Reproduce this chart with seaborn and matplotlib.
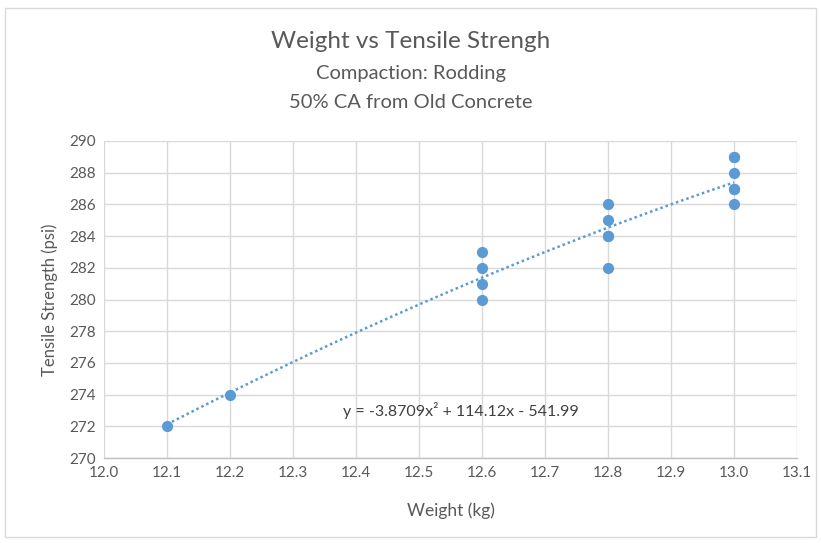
import matplotlib
matplotlib.use("Agg")
import matplotlib.pyplot as plt
import seaborn as sns
import numpy as np
import pandas as pd
from matplotlib.patches import Rectangle

weight = [12.1, 12.2, 12.6, 12.6, 12.6, 12.6, 12.8, 12.8, 12.8, 12.8, 12.8,
          13.0, 13.0, 13.0, 13.0, 13.0, 13.0]
strength = [272, 274, 280, 281, 282, 283, 282, 284, 284, 285, 286,
            286, 287, 287, 288, 289, 289]
coef = [-3.8709, 114.12, -541.99]
x_ticks = [12.0, 12.1, 12.2, 12.3, 12.4, 12.5, 12.6, 12.7, 12.8, 12.9, 13.0, 13.1]
y_ticks = [270, 272, 274, 276, 278, 280, 282, 284, 286, 288, 290]

sns.set_theme(style="white")
plt.rcParams['font.family'] = ['Lato', 'DejaVu Sans']

df = pd.DataFrame({"Weight": weight, "Strength": strength})

fig = plt.figure(figsize=(8.21, 5.43), dpi=100)
ax = fig.add_axes([104/821, 1-458/543, (797-104)/821, (458-141)/543])

blue = "#5B9BD5"
xs = np.linspace(min(weight), max(weight), 200)
ys = np.polyval(coef, xs)
ax.plot(xs, ys, linestyle=(0, (1, 1.2)), color=blue, linewidth=1.8, zorder=2)
sns.scatterplot(data=df, x="Weight", y="Strength", ax=ax, color=blue, s=65,
                edgecolor=blue, linewidth=0, zorder=3)

ax.set_xlim(12.0, 13.1)
ax.set_ylim(270, 290)
ax.set_xticks(x_ticks)
ax.set_xticklabels([f"{v:.1f}" for v in x_ticks])
ax.set_yticks(y_ticks)
ax.set_yticklabels([str(v) for v in y_ticks])
ax.grid(True, color="#d9d9d9", linewidth=1)
ax.set_axisbelow(True)
for s in ["top", "right", "left"]:
    ax.spines[s].set_visible(False)
ax.spines["bottom"].set_color("#bfbfbf")
ax.spines["bottom"].set_linewidth(1)
ax.tick_params(axis="both", colors="#595959", labelsize=11, length=0, pad=6)

ax.set_xlabel("Weight (kg)", color="#595959", fontsize=12.5, labelpad=16)
ax.set_ylabel("Tensile Strength (psi)", color="#595959", fontsize=12, labelpad=8)

ax.text(12.38, 273.0, "y = -3.8709x² + 114.12x - 541.99", color="#404040",
        fontsize=11.5, va="center", ha="left")

fig.text(0.5, 1-42/543, "Weight vs Tensile Strengh", ha="center", va="center",
         fontsize=17.5, color="#595959")
fig.text(0.5, 1-73/543, "Compaction: Rodding", ha="center", va="center",
         fontsize=14.5, color="#595959")
fig.text(0.5, 1-102/543, "50% CA from Old Concrete", ha="center", va="center",
         fontsize=14.5, color="#595959")

fig.patches.append(Rectangle((5/821, 1-537/543), 811/821, 529/543,
                             transform=fig.transFigure, fill=False,
                             edgecolor="#d9d9d9", linewidth=1))

fig.savefig("out.png", dpi=100)
